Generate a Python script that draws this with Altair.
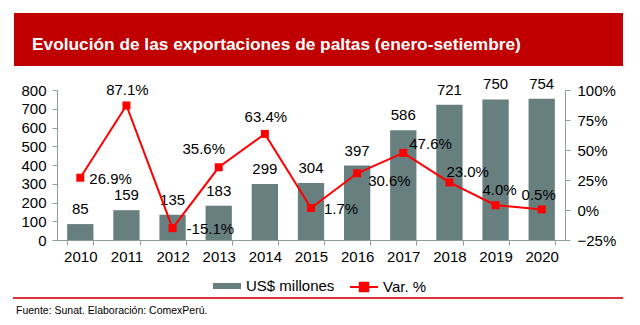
import altair as alt
import pandas as pd

# ---- data ----
years = ["2010", "2011", "2012", "2013", "2014", "2015", "2016", "2017", "2018", "2019", "2020"]
exports_musd = [85, 159, 135, 183, 299, 304, 397, 586, 721, 750, 754]
var_pct = [26.9, 87.1, -15.1, 35.6, 63.4, 1.7, 30.6, 47.6, 23.0, 4.0, 0.5]
var_labels = ["26.9%", "87.1%", "-15.1%", "35.6%", "63.4%", "1.7%", "30.6%", "47.6%", "23.0%", "4.0%", "0.5%"]
left_ticks = [0, 100, 200, 300, 400, 500, 600, 700, 800]
right_ticks = [-0.25, 0, 0.25, 0.5, 0.75, 1.0]
series_names = ["US$ millones", "Var. %"]

title_text = "Evolución de las exportaciones de paltas (enero-setiembre)"
source_text = "Fuente: Sunat. Elaboración: ComexPerú."

# ---- styles / label placement (not data) ----
FONT = "Liberation Sans"
BAR_COLOR = "#687F80"
RED = "#FF0000"
AXIS_COLOR = "#8E9E9E"
BAND_RED = "#C00000"
LINE_RED = "#E0303C"

# (align, dx, dy) of each percentage label relative to its point
pct_placement = {
    "2010": ("left", 9, 1),
    "2011": ("center", 1, -15),
    "2012": ("left", 14, 1),
    "2013": ("center", -15, -18),
    "2014": ("center", 1, -17),
    "2015": ("left", 13, 1),
    "2016": ("left", 11, 8),
    "2017": ("left", 6, -9),
    "2018": ("left", -3, -10),
    "2019": ("center", 4, -15),
    "2020": ("center", -3, -14),
}

df = pd.DataFrame({
    "year": years,
    "exports": exports_musd,
    "var": [v / 100 for v in var_pct],
    "var_label": var_labels,
    "bar_series": series_names[0],
    "line_series": series_names[1],
})

W, H = 508, 150
PAD_L, PAD_T = 57, 90

x_enc = alt.X(
    "year:O",
    title=None,
    scale=alt.Scale(paddingInner=0.43, paddingOuter=0.22),
    axis=alt.Axis(labelAngle=0, labelFontSize=15, labelFont=FONT, labelColor="#000000",
                  domainColor=AXIS_COLOR, tickColor=AXIS_COLOR, tickSize=5,
                  tickBand="extent", labelPadding=4, labelOverlap=False),
)

base = alt.Chart(df)

bars = base.mark_bar(color=BAR_COLOR).encode(
    x=x_enc,
    y=alt.Y("exports:Q", title=None,
            scale=alt.Scale(domain=[0, 800], nice=False),
            axis=alt.Axis(values=left_ticks, tickCount=len(left_ticks), labelFontSize=15,
                          labelFont=FONT, labelColor="#000000",
                          domainColor=AXIS_COLOR, tickColor=AXIS_COLOR, tickSize=5,
                          labelPadding=6, grid=False, labelOverlap=False, labelFlush=False)),
    color=alt.Color("bar_series:N", scale=alt.Scale(domain=[series_names[0]], range=[BAR_COLOR]),
                    legend=alt.Legend(title=None, orient="none", legendX=156, legendY=182,
                                      symbolType="M-1,-0.2143H1V0.2143H-1Z", symbolSize=784,
                                      symbolStrokeWidth=0, labelFontSize=15, labelFont=FONT,
                                      labelColor="#000000", labelOffset=5, padding=0)),
)

bar_text = base.mark_text(baseline="bottom", dy=-7, fontSize=15, font=FONT, color="#000000").encode(
    x="year:O", y="exports:Q", text=alt.Text("exports:Q"),
)

left = alt.layer(bars, bar_text)

y_right = alt.Y("var:Q", title=None,
                scale=alt.Scale(domain=[-0.25, 1.0], nice=False),
                axis=alt.Axis(orient="right", values=right_ticks, tickCount=len(right_ticks),
                              format=".0%", labelFontSize=15,
                              labelFont=FONT, labelColor="#000000", domainColor=AXIS_COLOR,
                              tickColor=AXIS_COLOR, tickSize=5, labelPadding=7, grid=False,
                              labelOverlap=False, labelFlush=False))

line = base.mark_line(color=RED, strokeWidth=2).encode(x="year:O", y=y_right)

points = base.mark_square(size=64, opacity=1, filled=True).encode(
    x="year:O", y="var:Q",
    color=alt.Color("line_series:N", scale=alt.Scale(domain=[series_names[1]], range=[RED]),
                    legend=alt.Legend(title=None, orient="none", legendX=292, legendY=182,
                                      symbolType="M-1,0H1M-0.3,-0.3H0.3V0.3H-0.3Z", symbolSize=784,
                                      symbolStrokeColor=RED, symbolStrokeWidth=2,
                                      labelFontSize=15, labelFont=FONT, labelColor="#000000",
                                      labelOffset=4, padding=0)),
)

pct_layers = []
for yr, (al, dx, dy) in pct_placement.items():
    pct_layers.append(
        base.transform_filter(alt.datum.year == yr)
        .mark_text(align=al, baseline="middle", dx=dx, dy=dy, fontSize=15, font=FONT, color="#000000")
        .encode(x="year:O", y="var:Q", text="var_label:N")
    )

right = alt.layer(line, points, *pct_layers)

one = pd.DataFrame({"k": [0]})
deco_base = alt.Chart(one)
band = deco_base.mark_rect(color=BAND_RED).encode(
    x=alt.value(14 - PAD_L), x2=alt.value(623 - PAD_L),
    y=alt.value(13 - PAD_T), y2=alt.value(66 - PAD_T),
)
title = deco_base.mark_text(align="left", baseline="middle", fontSize=17.3, fontWeight="bold",
                            font=FONT, color="#FFFFFF").encode(
    x=alt.value(32 - PAD_L), y=alt.value(45 - PAD_T), text=alt.value(title_text),
)
footer_rule = deco_base.mark_rule(color=LINE_RED, strokeWidth=2).encode(
    x=alt.value(13 - PAD_L), x2=alt.value(623 - PAD_L), y=alt.value(298 - PAD_T),
)
footer = deco_base.mark_text(align="left", baseline="middle", fontSize=10.5, font=FONT,
                             color="#000000").encode(
    x=alt.value(16 - PAD_L), y=alt.value(311 - PAD_T), text=alt.value(source_text),
)
deco = alt.layer(band, title, footer_rule, footer)

chart = alt.layer(left, right, deco).resolve_scale(y="independent", color="independent").properties(
    width=W, height=H,
    autosize=alt.AutoSizeParams(type="none"),
    padding={"left": PAD_L, "top": PAD_T, "right": 640 - PAD_L - W, "bottom": 325 - PAD_T - H},
    background="#FFFFFF",
).configure_view(stroke=None)

chart.save("out.html", embed_options={"renderer": "svg", "actions": False})
